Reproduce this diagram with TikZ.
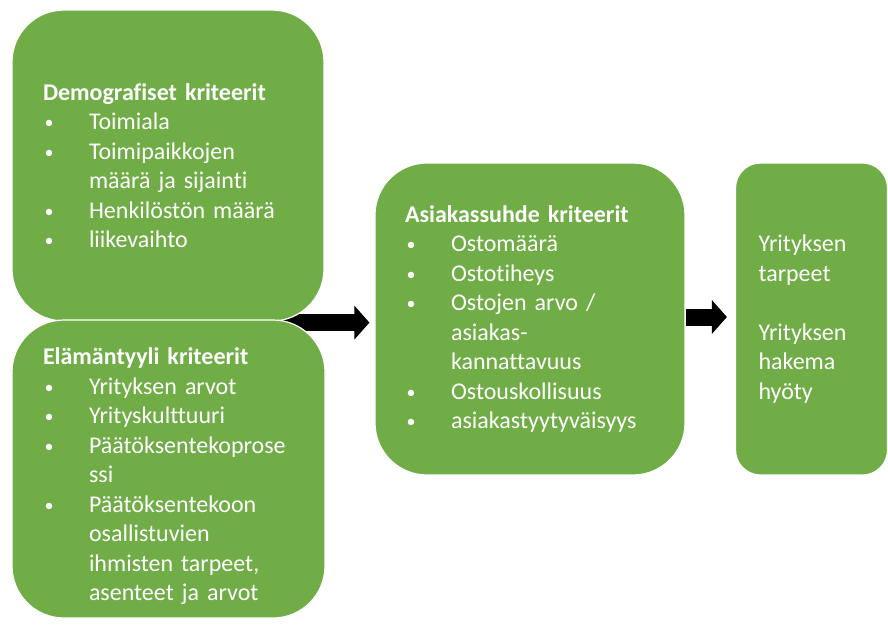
\documentclass[tikz,border=0pt]{standalone}
\usepackage{fontspec}
\setmainfont[Ligatures=NoCommon]{Carlito}
\usetikzlibrary{arrows.meta}
\pgfdeclarelayer{bg}
\pgfsetlayers{bg,main}
\definecolor{boxgreen}{HTML}{70AD47}
\newcommand{\itm}{\makebox[46pt][l]{\hspace{1.5pt}\raisebox{1pt}{\fontsize{18}{18}\selectfont\textbullet}}}
\newcommand{\cnt}{\hspace*{46pt}}

\begin{document}
\begin{tikzpicture}[x=1pt, y=-1pt,
    critbox/.style={rectangle, rounded corners=52pt, draw=white, line width=1.2pt,
        fill=boxgreen, text=white, align=left, inner ysep=4pt,
        font=\fontsize{24}{29.5}\selectfont},
    blockarrow/.style={line width=17pt, -{Triangle[length=15pt, width=33pt]}}]
        \useasboundingbox (0,0) rectangle (888,625);

        % Define the boxes
        \node[critbox, minimum width=312pt, minimum height=311pt, inner xsep=31pt, text width=250pt] (demo) at (168,165.5)
            {\textbf{Demografiset kriteerit}\\
             \itm Toimiala\\
             \itm Toimipaikkojen\\
             \cnt määrä ja sijainti\\
             \itm Henkilöstön määrä\\
             \itm liikevaihto};

        \node[critbox, minimum width=313pt, minimum height=298pt, inner xsep=31pt, text width=251pt] (elama) at (168.5,469)
            {\rule{0pt}{32pt}\textbf{Elämäntyyli kriteerit}\\
             \itm Yrityksen arvot\\
             \itm Yrityskulttuuri\\
             \itm Päätöksentekoprose\\
             \cnt ssi\\
             \itm Päätöksentekoon\\
             \cnt osallistuvien\\
             \cnt ihmisten tarpeet,\\
             \cnt asenteet ja arvot};

        \node[critbox, minimum width=310pt, minimum height=312pt, inner xsep=30pt, text width=250pt] (suhde) at (530,319)
            {\textbf{Asiakassuhde kriteerit}\\
             \itm Ostomäärä\\
             \itm Ostotiheys\\
             \itm Ostojen arvo /\\
             \cnt asiakas-\\
             \cnt kannattavuus\\
             \itm Ostouskollisuus\\
             \itm asiakastyytyväisyys};

        \node[critbox, rounded corners=25pt, minimum width=152pt, minimum height=312pt, inner xsep=23pt, text width=106pt] (tarve) at (811.5,319)
            {Yrityksen\\
             tarpeet\\[29.5pt]
             Yrityksen\\
             hakema\\
             hyöty};

        % Define the arrows (behind the boxes)
        \begin{pgfonlayer}{bg}
        \draw[blockarrow, shorten >=5pt] ([yshift=-1pt]demo.south) -- ([yshift=-1pt]demo.south -| suhde.west);
        \draw[blockarrow, shorten >=8pt] ([yshift=2pt]suhde.east) -- ([yshift=2pt]tarve.west);
        \end{pgfonlayer}

    \end{tikzpicture}
\end{document}
